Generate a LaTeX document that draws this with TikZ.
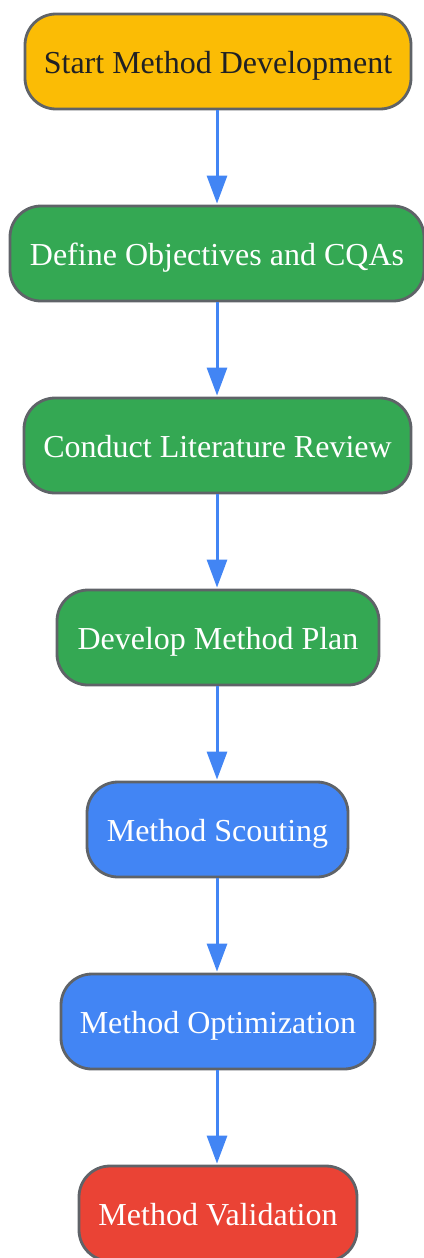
\documentclass[tikz,border=0pt]{standalone}
\usepackage{fontspec}
\setmainfont{Liberation Serif}
\usetikzlibrary{arrows.meta}
\definecolor{cyellow}{HTML}{FBBC05}
\definecolor{cgreen}{HTML}{34A853}
\definecolor{cblue}{HTML}{4285F4}
\definecolor{cred}{HTML}{EA4335}
\definecolor{cborder}{HTML}{5F6368}
\definecolor{ctext}{HTML}{202124}
\begin{document}
\begin{tikzpicture}[x=1pt,y=-1pt,
  stepbox/.style={draw=cborder,line width=2.8pt,rounded corners=31pt,minimum height=95pt,inner sep=0pt,text height=23pt,text depth=0pt,font=\fontsize{32}{36}\selectfont,text=white},
  flow/.style={draw=cblue,line width=3pt,-{Triangle[width=20pt,length=28pt]},shorten >=1pt}]
\useasboundingbox (0,0) rectangle (423,1258);
\node[stepbox,fill=cyellow,text=ctext,minimum width=386pt] (n1) at (218,61.5) {Start Method Development};
\node[stepbox,fill=cgreen,minimum width=414pt] (n2) at (217,253.5) {Define Objectives and CQAs};
\node[stepbox,fill=cgreen,minimum width=387pt] (n3) at (217.5,445.5) {Conduct Literature Review};
\node[stepbox,fill=cgreen,minimum width=322pt] (n4) at (218,637.5) {Develop Method Plan};
\node[stepbox,fill=cblue,minimum width=261pt] (n5) at (217.5,829.5) {Method Scouting};
\node[stepbox,fill=cblue,minimum width=314pt] (n6) at (218,1021.5) {Method Optimization};
\node[stepbox,fill=cred,minimum width=278pt] (n7) at (218,1213.5) {Method Validation};
\foreach \a/\b in {n1/n2,n2/n3,n3/n4,n4/n5,n5/n6,n6/n7}
  \draw[flow] (\a.south -| 217,0) -- (\b.north -| 217,0);
\end{tikzpicture}
\end{document}
